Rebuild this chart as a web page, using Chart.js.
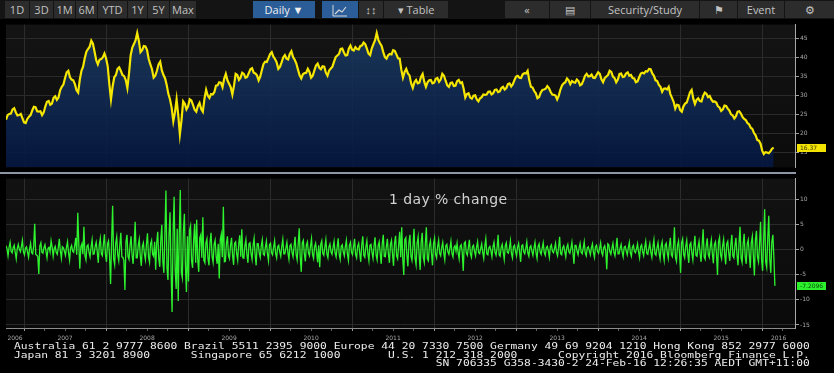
<!DOCTYPE html>
<html>
<head>
<meta charset="utf-8">
<script src="https://cdn.jsdelivr.net/npm/chart.js@4.4.1/dist/chart.umd.min.js"></script>
<style>
  html, body { margin: 0; padding: 0; background: #000; }
  #wrap { position: relative; width: 834px; height: 373px; overflow: hidden; background: #000; }
  #bar { position: absolute; left: 0; top: 0; width: 834px; height: 19px; background: #141414;
         font-family: "Open Sans", sans-serif; font-size: 11px; color: #c2c2c2; }
  #bar span { position: absolute; top: 1px; height: 17px; line-height: 17px; background: #2c2c2c; text-align: center; }
  #bar span.blue { background: #2b5d98; color: #f0f0f0; }
  #top { position: absolute; left: 0; top: 20px; }
  #sep { position: absolute; left: 0; top: 172px; width: 796px; height: 2px; background: #8d97a6; }
  #bottom { position: absolute; left: 0; top: 174px; }
  #title { position: absolute; left: 389px; top: 191px; font-family: "DejaVu Sans", sans-serif; font-size: 14px;
           letter-spacing: 0.4px; color: #d2d2d2; }
  .foot { position: absolute; left: 14px; font-family: "DejaVu Sans Mono", monospace; font-size: 11.3px; line-height: 11px;
          color: #ececec; white-space: pre; transform: scaleY(0.78); transform-origin: 0 0; }
</style>
</head>
<body>
<div id="wrap">
  <div id="bar">
    <span style="left:5px;width:24px">1D</span>
    <span style="left:30px;width:23px">3D</span>
    <span style="left:54px;width:21px">1M</span>
    <span style="left:76px;width:21px">6M</span>
    <span style="left:98px;width:29px">YTD</span>
    <span style="left:128px;width:19px">1Y</span>
    <span style="left:148px;width:21px">5Y</span>
    <span style="left:170px;width:26px">Max</span>
    <span class="blue" style="left:253px;width:62px">Daily &#9660;</span>
    <span class="blue" style="left:322px;width:36px"><svg width="16" height="12" viewBox="0 0 16 12" style="vertical-align:middle"><polyline points="1,0 1,11 15,11" fill="none" stroke="#d8d8d8" stroke-width="1"/><polyline points="3,9 7,5 10,7 14,2" fill="none" stroke="#d8d8d8" stroke-width="1.2"/></svg></span>
    <span style="left:359px;width:24px">&#8597;&#8597;</span>
    <span style="left:384px;width:64px">&#9662; Table</span>
    <span style="left:505px;width:44px">&#171;</span>
    <span style="left:550px;width:40px">&#9636;</span>
    <span style="left:591px;width:108px">Security/Study</span>
    <span style="left:700px;width:37px">&#9873;</span>
    <span style="left:738px;width:46px">Event</span>
    <span style="left:785px;width:49px">&#9881;</span>
  </div>
  <canvas id="top" width="834" height="152"></canvas>
  <div id="sep"></div>
  <canvas id="bottom" width="834" height="168"></canvas>
  <div id="title">1 day % change</div>
  <div class="foot" style="top:342px">Australia 61 2 9777 8600 Brazil 5511 2395 9000 Europe 44 20 7330 7500 Germany 49 69 9204 1210 Hong Kong 852 2977 6000</div>
  <div class="foot" style="top:350.5px">Japan 81 3 3201 8900      Singapore 65 6212 1000       U.S. 1 212 318 2000      Copyright 2016 Bloomberg Finance L.P.</div>
  <div class="foot" style="top:359px">                                                              SN 706335 G358-3430-2 24-Feb-16 12:26:35 AEDT GMT+11:00</div>
</div>
<script>
// time range (fractional years) and sampling steps
var xMin = 2006.78;
var xMax = 2016.4;
var startYear = 2006.78;
var priceStep = 0.02;
var changeStep = 0.0125;

var years = [2006, 2007, 2008, 2009, 2010, 2011, 2012, 2013, 2014, 2015, 2016];
var priceTicks = [15, 20, 25, 30, 35, 40, 45];
var changeTicks = [-15, -10, -5, 0, 5, 10];
var lastPriceText = '16.37';
var lastChangeText = '-7.2096';

// price (top panel)
var price = [
  23.7, 24.9, 25.2, 25.3, 26.4, 26.7, 25.6, 24.8, 24.9, 25.2, 24.1, 23.0, 22.8, 23.9, 24.5, 24.9, 26.1, 27.1, 27.0, 25.9,
  25.8, 25.9, 24.9, 25.6, 27.2, 28.4, 28.6, 27.6, 27.9, 29.4, 29.8, 28.9, 29.5, 31.4, 32.3, 32.9, 34.6, 36.1, 36.5, 34.8,
  34.2, 34.0, 33.0, 31.4, 30.8, 34.2, 36.5, 37.6, 39.8, 41.5, 42.2, 42.8, 44.4, 43.6, 41.5, 39.3, 38.2, 39.4, 39.6, 40.0,
  41.0, 39.8, 37.7, 33.0, 29.0, 32.4, 34.8, 35.4, 37.0, 37.4, 36.5, 35.4, 35.1, 34.1, 32.0, 35.8, 40.6, 42.6, 43.5, 44.5,
  46.4, 44.3, 41.4, 41.9, 43.0, 42.9, 41.9, 39.6, 38.2, 36.9, 34.7, 35.2, 36.5, 38.2, 38.9, 36.6, 35.4, 34.5, 32.7, 30.4,
  29.0, 26.8, 23.3, 25.6, 29.0, 24.9, 19.9, 23.6, 28.5, 27.9, 26.4, 27.2, 29.0, 28.7, 27.6, 26.3, 25.8, 27.3, 28.1, 26.5,
  25.8, 29.2, 31.5, 30.0, 29.4, 30.4, 30.3, 30.9, 32.6, 32.7, 33.5, 33.4, 32.2, 34.4, 35.7, 34.0, 33.1, 32.2, 30.3, 32.6,
  35.7, 35.4, 34.1, 34.7, 36.0, 35.7, 34.7, 34.9, 35.9, 36.9, 37.2, 36.0, 35.8, 35.3, 34.0, 35.0, 36.7, 38.3, 38.9, 38.8,
  39.8, 40.9, 41.4, 40.2, 39.6, 38.7, 37.0, 37.5, 38.7, 40.0, 40.6, 39.7, 39.5, 40.9, 41.6, 40.1, 39.4, 38.4, 36.8, 35.3,
  34.5, 35.6, 35.9, 36.0, 37.0, 36.2, 34.7, 35.2, 36.6, 37.9, 38.4, 37.3, 36.9, 37.7, 37.6, 36.0, 35.2, 36.6, 37.1, 37.6,
  38.9, 40.1, 40.5, 40.9, 42.2, 42.3, 41.3, 40.5, 40.6, 42.3, 43.1, 42.0, 41.8, 42.7, 42.2, 42.1, 43.0, 43.1, 43.9, 43.5,
  42.3, 41.0, 40.6, 42.4, 43.5, 44.5, 46.4, 44.6, 43.7, 43.0, 41.4, 40.1, 39.7, 40.6, 40.9, 40.8, 41.9, 41.7, 40.8, 39.8,
  39.7, 36.8, 34.7, 36.2, 37.0, 35.8, 35.3, 33.2, 32.0, 33.5, 34.1, 33.2, 33.4, 34.9, 35.7, 33.6, 32.3, 33.5, 34.0, 34.1,
  33.2, 33.4, 34.4, 34.6, 33.6, 34.2, 35.7, 35.2, 33.9, 32.7, 32.3, 33.3, 33.4, 32.5, 32.6, 33.8, 34.1, 33.3, 33.5, 31.8,
  29.5, 30.4, 30.6, 29.5, 29.2, 30.0, 30.1, 29.0, 28.5, 29.3, 29.6, 30.3, 30.2, 30.3, 31.0, 31.1, 30.3, 30.6, 31.5, 31.6,
  30.9, 31.1, 32.0, 32.3, 31.6, 32.0, 33.0, 33.2, 32.4, 33.0, 34.1, 35.0, 35.2, 34.7, 34.6, 35.6, 35.9, 35.8, 36.5, 34.0,
  32.3, 32.1, 31.2, 30.6, 29.3, 29.6, 30.8, 31.5, 31.6, 31.8, 32.5, 32.0, 31.0, 30.3, 30.2, 30.0, 29.0, 30.0, 31.6, 32.7,
  33.2, 33.5, 34.5, 34.0, 33.0, 33.8, 33.5, 33.4, 34.2, 33.8, 32.7, 33.0, 34.0, 35.2, 35.7, 35.0, 35.1, 35.5, 34.7, 34.6,
  35.4, 36.1, 35.7, 34.3, 33.5, 34.6, 35.0, 35.4, 36.5, 36.2, 35.0, 34.6, 33.5, 34.2, 35.7, 35.8, 34.9, 35.0, 35.8, 36.1,
  35.2, 35.4, 34.6, 34.5, 33.5, 33.7, 34.8, 35.8, 36.0, 35.8, 36.4, 36.3, 37.0, 36.9, 35.8, 35.2, 34.0, 33.8, 32.8, 32.3,
  31.0, 31.8, 31.9, 31.6, 32.3, 30.4, 29.4, 28.4, 26.6, 27.6, 27.5, 26.2, 25.8, 27.2, 27.9, 28.2, 29.5, 30.9, 31.5, 29.2,
  27.8, 28.9, 29.3, 28.6, 28.5, 29.9, 30.8, 30.5, 29.6, 29.9, 29.0, 28.4, 28.5, 28.2, 27.2, 26.9, 26.0, 26.4, 27.4, 27.3,
  26.6, 26.1, 25.1, 24.8, 24.0, 24.6, 25.8, 25.9, 25.3, 24.4, 23.9, 23.6, 22.8, 22.5, 21.6, 21.3, 20.2, 19.6, 18.4, 18.2,
  17.4, 15.6, 14.7, 15.2, 15.1, 14.9, 15.4, 16.1, 16.37
];

// 1 day % change (bottom panel)
var change = [
  0.8, 0.2, -1.2, 0.5, 1.5, -0.3, -0.6, 0.4, 0.9, -0.5, -1.8, 0.3, 1.1, 0.1, -0.4, 0.6, 1.9, -0.4, -1.0, 0.3,
  0.6, -0.4, -1.5, 0.2, 1.3, -0.6, -0.8, 0.7, 5.2, -0.9, -1.1, -1.3, -4.8, 0.8, 1.4, -0.5, -0.7, 0.4, 1.0, -0.3,
  -1.6, 0.3, 0.5, -0.4, 1.8, 0.6, -1.3, 0.2, 0.7, -0.5, -0.9, 0.4, 2.2, -0.2, -1.7, 0.6, 0.4, -0.3, -1.1, 0.5,
  1.6, -0.6, -2.1, 0.4, 0.9, -0.3, -0.5, 0.8, 2.4, -1.0, 7.4, 1.2, -3.8, 0.6, 1.2, -0.9, 4.6, -1.1, -2.0, 0.7,
  1.0, -0.5, -1.4, 0.6, 2.0, -0.9, -0.8, 0.7, 1.5, -0.4, -2.6, 1.0, 2.3, -0.8, -1.2, 1.1, 3.1, -0.9, -2.4, 1.2,
  1.8, -1.2, -6.8, 1.5, 8.8, -1.8, -3.0, 1.3, 2.6, -1.0, -2.2, 0.9, 3.4, -1.4, -1.5, -2.2, -8.0, 1.6, 3.0, -1.3,
  -1.9, 0.8, 2.7, -1.1, -2.8, 1.0, 5.6, -1.6, -1.6, 0.9, 2.1, -1.2, -3.2, 0.7, 1.4, -0.8, -2.0, 1.1, 3.3, -1.4,
  -2.5, 1.2, 1.9, -0.9, -1.3, 1.6, -4.0, 1.4, 3.6, -1.8, -3.4, 2.0, 5.0, -2.4, -4.6, 3.1, 11.8, -3.6, -6.0, 2.8,
  7.5, -4.1, -12.4, 3.5, 10.6, -3.8, -7.8, 4.2, -10.2, 3.0, 11.9, -4.5, -5.6, 3.6, 7.2, -3.2, -8.4, 2.7, -6.3, 3.9,
  4.8, -2.2, -3.6, 1.8, 5.2, -2.6, 6.0, -2.0, -4.4, 2.4, 3.0, -1.6, 6.5, -2.1, -2.6, 1.4, 2.2, -1.7, -3.1, 1.5,
  3.4, -1.3, -2.5, 1.1, 1.9, -1.4, -2.8, 1.2, -5.7, 2.0, 3.1, -1.5, 8.6, -2.4, -2.3, 1.3, 2.7, -1.2, -1.8, 0.9,
  2.4, -1.1, -3.0, 1.3, 1.6, -0.8, -2.1, 1.2, 2.9, -1.4, 4.1, -1.6, -1.7, 0.8, 2.0, -1.0, -2.6, 1.2, 1.4, -0.7,
  -1.9, 0.9, 2.3, -1.0, -3.1, 1.2, 1.2, -0.6, -1.5, 0.8, 2.0, -0.9, -1.1, 0.5, 1.7, -0.8, -2.2, 1.0, 1.3, -0.6,
  -1.0, 0.5, 1.8, -0.7, -1.6, 0.6, 0.9, -0.4, -1.3, 0.7, 2.1, -0.8, -0.8, 0.4, 1.5, -0.6, -1.9, 0.8, 1.1, -0.5,
  -1.4, 0.7, 2.6, -0.9, -2.0, 1.0, 4.3, -1.5, -4.4, 1.4, 1.9, -0.8, -2.3, 1.0, 1.6, -0.6, -1.2, 0.7, 2.2, -0.9,
  -1.7, 0.6, 1.3, -0.5, -2.5, 0.9, -3.5, 1.1, 1.8, -0.7, -1.1, 0.5, 2.0, -0.8, -1.6, 0.6, 1.2, -0.4, -0.9, 0.5,
  1.7, -0.6, -1.4, 0.5, 2.3, -0.9, -1.9, 0.7, 1.0, -0.4, -1.2, 0.6, 1.9, -0.8, -2.1, 0.9, 1.5, -0.5, -1.0, 0.6,
  2.2, -0.9, -1.6, 0.7, 1.3, -0.6, -2.4, 1.0, 2.7, -1.1, -1.5, 0.6, 1.8, -0.8, -2.2, 0.9, 1.1, -0.5, -1.7, 0.8,
  2.5, -1.0, -2.0, 0.8, 1.6, -0.7, -2.8, 1.2, 3.0, -1.3, -1.4, 0.6, 2.2, -0.9, -2.6, 1.1, 1.9, -0.8, -3.2, 1.3,
  2.8, -1.2, -1.8, 0.9, 3.6, -1.5, 4.5, -1.8, -5.0, 2.0, 2.4, -1.1, -3.3, 1.4, 3.0, -1.3, -2.1, 0.9, 4.2, -1.7,
  -3.0, 1.3, 2.6, -1.1, -4.0, 1.6, 3.4, -1.4, -2.5, 1.0, 4.5, -1.8, -2.2, 0.9, 1.8, -0.7, -3.1, 1.2, 2.3, -0.9,
  -1.6, 0.6, 1.9, -0.7, -1.2, 0.5, 1.5, -0.6, -2.0, 0.8, 1.1, -0.4, -0.9, 0.3, 1.7, -0.7, -1.4, 0.5, 0.8, -0.3,
  1.3, -0.5, -1.8, 0.7, 1.0, -0.4, -4.2, 1.3, 1.6, -0.6, -1.1, 0.4, 2.0, -0.8, -1.5, 0.6, 0.9, -0.3, -1.2, 0.5,
  1.6, -0.6, -0.8, 0.3, 1.2, -0.5, -1.7, 0.7, 2.2, -0.8, -1.0, 0.4, 0.7, -0.2, -1.4, 0.6, 1.5, -0.5, -1.1, 0.4,
  3.0, -1.0, -1.3, 0.5, 1.1, -0.4, -1.9, 0.8, 1.4, -0.5, -0.7, 0.3, 1.8, -0.7, -1.6, 0.6, 0.9, -0.3, -1.2, 0.5,
  1.3, -0.5, -2.4, 0.8, 1.0, -0.4, -0.8, 0.3, 1.6, -0.6, -1.3, 0.5, 0.8, -0.3, -1.1, 0.4, 1.5, -0.6, -1.7, 0.7,
  1.2, -0.4, -0.9, 0.3, 1.4, -0.5, -1.1, 0.4, 0.7, -0.2, -1.5, 0.6, 1.0, -0.3, -0.6, 0.2, 1.3, -0.5, -1.2, 0.4,
  2.6, -0.8, -1.0, 0.4, 0.8, -0.3, -1.4, 0.5, 1.1, -0.4, -0.7, 0.3, 1.5, -0.6, -2.8, 0.9, 0.9, -0.3, -1.0, 0.4,
  1.3, -0.5, -0.8, 0.3, 1.6, -0.6, -1.2, 0.4, 0.6, -0.2, -1.0, 0.4, 1.2, -0.5, -1.5, 0.6, 0.9, -0.3, -0.7, 0.3,
  1.4, -0.5, -1.1, 0.4, 0.8, -0.3, -3.9, 1.2, 1.0, -0.4, -0.9, 0.3, 1.3, -0.5, -1.2, 0.4, 2.4, -0.8, -0.8, 0.3,
  1.1, -0.4, -1.4, 0.5, 0.7, -0.2, -1.0, 0.4, 1.5, -0.6, -1.3, 0.5, 0.9, -0.3, -0.6, 0.2, 1.2, -0.4, -1.6, 0.6,
  1.0, -0.4, -1.2, 0.5, 1.7, -0.7, -0.9, 0.3, 1.3, -0.5, -1.5, 0.6, 2.0, -0.8, -1.1, 0.4, 1.4, -0.6, -1.8, 0.7,
  1.6, -0.7, -2.1, 0.9, 1.3, -0.5, -1.7, 0.8, 2.4, -1.0, -1.4, 0.6, 4.5, -1.5, -2.3, 0.9, 1.8, -0.8, -4.6, 1.4,
  2.2, -0.9, -1.6, 0.7, 1.9, -0.8, -2.6, 1.0, 1.4, -0.6, -2.0, 0.8, 2.8, -1.1, -1.3, 0.5, 1.7, -0.7, -2.4, 0.9,
  4.1, -1.4, -1.9, 0.8, 2.3, -0.9, -1.5, 0.7, 2.0, -0.8, -2.7, 1.1, 1.6, -0.7, -5.0, 1.6, 2.5, -1.0, -1.8, 0.8,
  2.1, -0.9, -2.9, 1.2, 1.7, -0.7, -2.2, 1.0, 3.0, -1.2, -1.6, 0.8, 2.4, -1.0, -3.1, 1.3, 4.6, -1.6, -2.5, 1.1,
  3.2, -1.3, -2.8, 1.2, 2.0, -1.0, -3.6, 1.5, 2.7, -1.2, -5.1, 1.9, 3.8, -1.4, -2.4, 1.0, 5.6, -2.0, -4.2, 1.8,
  8.1, -2.4, -3.5, 2.2, 6.8, -2.0, -4.6, 1.6, 3.0, -1.5, -7.2
];

function isYear(v) { return v != null && Math.abs(v - Math.round(v)) < 1e-6; }

function labelPos(y) {
  if (y === years[0]) return (xMin + y + 1) / 2;
  if (y === years[years.length - 1]) return (y + xMax) / 2;
  return y + 0.5;
}

function yearLabel(v) {
  for (var k = 0; k < years.length; k++) {
    if (Math.abs(labelPos(years[k]) - v) < 1e-6) return String(years[k]);
  }
  return '';
}

function buildXTicks(scale) {
  var t = [];
  years.forEach(function(y) {
    [0, 0.25, 0.5, 0.75].forEach(function(q) {
      var v = y + q;
      if (v >= xMin && v <= xMax) t.push(v);
    });
  });
  t.push(labelPos(years[0]), labelPos(years[years.length - 1]));
  t.sort(function(a, b) { return a - b; });
  scale.ticks = t.map(function(v) { return { value: v }; });
}

function xAxis(showLabels) {
  return {
    type: 'linear', min: xMin, max: xMax,
    afterBuildTicks: buildXTicks,
    afterFit: function(s) { s.height = showLabels ? 14 : 0; },
    ticks: { display: showLabels, autoSkip: false, maxRotation: 0, padding: 4,
             font: { size: 6, family: 'DejaVu Sans' }, color: '#a8a8a8',
             callback: function(v) { return yearLabel(v); } },
    grid: {
      color: function(c) { return isYear(c.tick && c.tick.value) ? '#2c2c2c' : 'rgba(0,0,0,0)'; },
      drawTicks: showLabels, tickLength: 3,
      tickColor: function(c) {
        var v = c.tick && c.tick.value;
        if (isYear(v)) return '#9a9a9a';
        return Math.abs((v * 4) - Math.round(v * 4)) > 1e-6 ? 'rgba(0,0,0,0)' : '#5e5e5e';
      }
    },
    border: { display: showLabels, color: '#8c8c8c' }
  };
}

function yAxis(min, max, ticks) {
  return {
    position: 'right', min: min, max: max,
    afterBuildTicks: function(s) { s.ticks = ticks.map(function(v) { return { value: v }; }); },
    afterFit: function(s) { s.width = 39; },
    ticks: { padding: 1, font: { size: 6, family: 'DejaVu Sans' }, color: '#a8a8a8' },
    grid: { color: '#2a2a2a', tickLength: 4, tickColor: '#a0a0a0' },
    border: { color: '#a8a8a8' }
  };
}

var plotBg = {
  id: 'plotBg',
  beforeDraw: function(chart, args, opts) {
    var a = chart.chartArea, ctx = chart.ctx;
    var g = ctx.createLinearGradient(0, a.top, 0, a.bottom);
    g.addColorStop(0, opts.top);
    g.addColorStop(1, opts.bottom);
    ctx.save();
    ctx.fillStyle = g;
    ctx.fillRect(a.left, a.top, a.right - a.left, a.bottom - a.top);
    ctx.restore();
  }
};

var valueBox = {
  id: 'valueBox',
  afterDraw: function(chart, args, opts) {
    var ctx = chart.ctx, s = chart.scales.y;
    var d = chart.data.datasets[0].data;
    var y = Math.round(s.getPixelForValue(d[d.length - 1].y));
    var x = s.left + 2;
    ctx.save();
    ctx.fillStyle = opts.bg;
    ctx.fillRect(x, y - 4, 29, 8);
    ctx.fillStyle = opts.fg;
    ctx.font = '6px "DejaVu Sans"';
    ctx.textBaseline = 'middle';
    ctx.fillText(opts.text, x + 3, y + 0.5);
    ctx.restore();
  }
};

var pricePoints = price.map(function(v, i) { return { x: startYear + i * priceStep, y: v }; });
var changePoints = change.map(function(v, i) { return { x: startYear + i * changeStep, y: v }; });

new Chart(document.getElementById('top'), {
  type: 'line',
  data: { datasets: [{
    data: pricePoints,
    borderColor: '#f5e600', borderWidth: 2.2, pointRadius: 0, tension: 0,
    fill: 'start',
    backgroundColor: function(c) {
      var a = c.chart.chartArea;
      if (!a) return 'rgba(20,50,90,0.85)';
      var g = c.chart.ctx.createLinearGradient(0, a.top, 0, a.bottom);
      g.addColorStop(0, 'rgba(27,62,100,0.86)');
      g.addColorStop(1, 'rgba(5,22,64,0.92)');
      return g;
    }
  }] },
  options: {
    responsive: false, animation: false, devicePixelRatio: 1,
    layout: { padding: { left: 6, top: 1, right: 0, bottom: 0 } },
    plugins: { legend: { display: false }, tooltip: { enabled: false },
               plotBg: { top: '#141414', bottom: '#0b0b0b' },
               valueBox: { text: lastPriceText, bg: '#f3e300', fg: '#3a3a00' } },
    scales: { x: xAxis(false), y: yAxis(11.2, 48.6, priceTicks) }
  },
  plugins: [plotBg, valueBox]
});

new Chart(document.getElementById('bottom'), {
  type: 'line',
  data: { datasets: [{
    data: changePoints,
    borderColor: '#2ef22e', borderWidth: 1.3, pointRadius: 0, tension: 0, fill: false
  }] },
  options: {
    responsive: false, animation: false, devicePixelRatio: 1,
    layout: { padding: { left: 6, top: 0, right: 0, bottom: 0 } },
    plugins: { legend: { display: false }, tooltip: { enabled: false },
               plotBg: { top: '#121212', bottom: '#0a0a0a' },
               valueBox: { text: lastChangeText, bg: '#2cf02c', fg: '#0b4a0b' } },
    scales: { x: xAxis(true), y: yAxis(-15.6, 14.2, changeTicks) }
  },
  plugins: [plotBg, valueBox]
});
</script>
</body>
</html>
